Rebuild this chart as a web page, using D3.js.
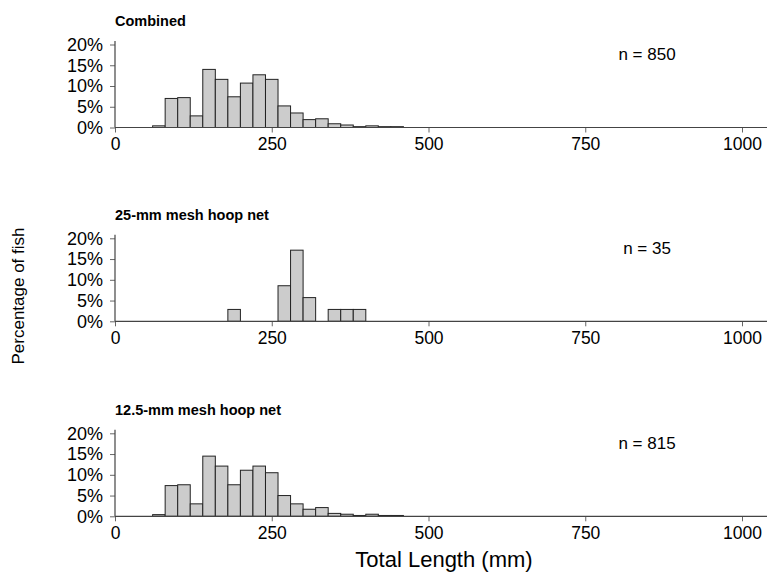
<!DOCTYPE html>
<html>
<head>
<meta charset="utf-8">
<script src="https://cdn.jsdelivr.net/npm/d3@7"></script>
<style>
  body { margin: 0; background: #fff; }
  text { font-family: "Liberation Sans", Arial, sans-serif; }
</style>
</head>
<body>
<svg id="chart" width="768" height="573"></svg>
<script>
// ---- data ----
const binStarts = [60, 80, 100, 120, 140, 160, 180, 200, 220, 240, 260, 280, 300, 320, 340, 360, 380, 400, 420, 440];
const binWidth = 20;
const combinedPct = [0.4, 7.0, 7.2, 2.8, 14.0, 11.6, 7.4, 10.7, 12.7, 11.6, 5.2, 3.5, 1.9, 2.1, 0.9, 0.6, 0.2, 0.4, 0.2, 0.2];
const mesh25Pct = [0, 0, 0, 0, 0, 0, 2.86, 0, 0, 0, 8.57, 17.14, 5.71, 0, 2.86, 2.86, 2.86, 0, 0, 0];
const mesh125Pct = [0.4, 7.4, 7.6, 3.0, 14.5, 12.1, 7.6, 11.1, 12.1, 10.5, 5.0, 3.0, 1.7, 2.1, 0.7, 0.5, 0.2, 0.5, 0.2, 0.2];
const panelTitles = ["Combined", "25-mm mesh hoop net", "12.5-mm mesh hoop net"];
const panelN = ["n = 850", "n = 35", "n = 815"];
const xTicks = [0, 250, 500, 750, 1000];
const yTicks = [0, 5, 10, 15, 20];
const yTickLabels = ["0%", "5%", "10%", "15%", "20%"];
const xLabel = "Total Length (mm)";
const yLabel = "Percentage of fish";

const series = [combinedPct, mesh25Pct, mesh125Pct];

// ---- layout ----
const svg = d3.select("#chart");
const panelTops = [44.5, 238.3, 433.3];
const panelH = 83;
const x = d3.scaleLinear().domain([0, 1000]).range([115, 742]);
const axisRight = 767;
const axisColor = "#444";

series.forEach((vals, i) => {
  const top = panelTops[i];
  const base = top + panelH;
  const y = d3.scaleLinear().domain([0, 20]).range([base, top]);
  const g = svg.append("g");

  // bars
  const bins = binStarts.map((s, j) => ({ x0: s, x1: s + binWidth, v: vals[j] })).filter(d => d.v > 0);
  g.selectAll("rect.bar").data(bins).enter().append("rect")
    .attr("class", "bar")
    .attr("x", d => x(d.x0))
    .attr("width", d => x(d.x1) - x(d.x0))
    .attr("y", d => y(d.v))
    .attr("height", d => y(0) - y(d.v))
    .attr("fill", "#cccccc")
    .attr("stroke", "#222")
    .attr("stroke-width", 1);

  // x axis
  const xa = g.append("g").attr("transform", `translate(0,${base})`)
    .call(d3.axisBottom(x).tickValues(xTicks).tickSize(5).tickPadding(5).tickFormat(d3.format("d")));
  xa.select(".domain").remove();
  xa.selectAll(".tick line").attr("stroke", "#666");
  xa.selectAll("text").attr("font-size", "17.5px").attr("fill", "#000")
    .attr("font-family", "'Liberation Sans', Arial, sans-serif");
  g.append("line").attr("x1", x(0)).attr("x2", axisRight).attr("y1", base).attr("y2", base)
    .attr("stroke", axisColor).attr("stroke-width", 1.2);

  // y axis
  const ya = g.append("g").attr("transform", `translate(${x(0)},0)`)
    .call(d3.axisLeft(y).tickValues(yTicks).tickSize(5).tickPadding(7).tickFormat((d, k) => yTickLabels[k]));
  ya.select(".domain").remove();
  ya.selectAll(".tick line").attr("stroke", "#666");
  ya.selectAll("text").attr("font-size", "18px").attr("fill", "#000")
    .attr("font-family", "'Liberation Sans', Arial, sans-serif");
  g.append("line").attr("x1", x(0)).attr("x2", x(0)).attr("y1", y(20) - 3.5).attr("y2", base)
    .attr("stroke", axisColor).attr("stroke-width", 1.2);

  // title
  g.append("text").attr("x", x(0)).attr("y", top - 18.5)
    .attr("font-weight", "bold").attr("font-size", "14.5px").attr("fill", "#000")
    .text(panelTitles[i]);

  // n label
  g.append("text").attr("x", 647).attr("y", top + 15.5)
    .attr("text-anchor", "middle").attr("font-size", "17px").attr("fill", "#000")
    .text(panelN[i]);
});

// axis titles
svg.append("text").attr("x", 444).attr("y", 567)
  .attr("text-anchor", "middle").attr("font-size", "22px").attr("fill", "#000")
  .text(xLabel);
svg.append("text").attr("transform", "translate(24,296) rotate(-90)")
  .attr("text-anchor", "middle").attr("font-size", "17px").attr("fill", "#000")
  .text(yLabel);
</script>
</body>
</html>
